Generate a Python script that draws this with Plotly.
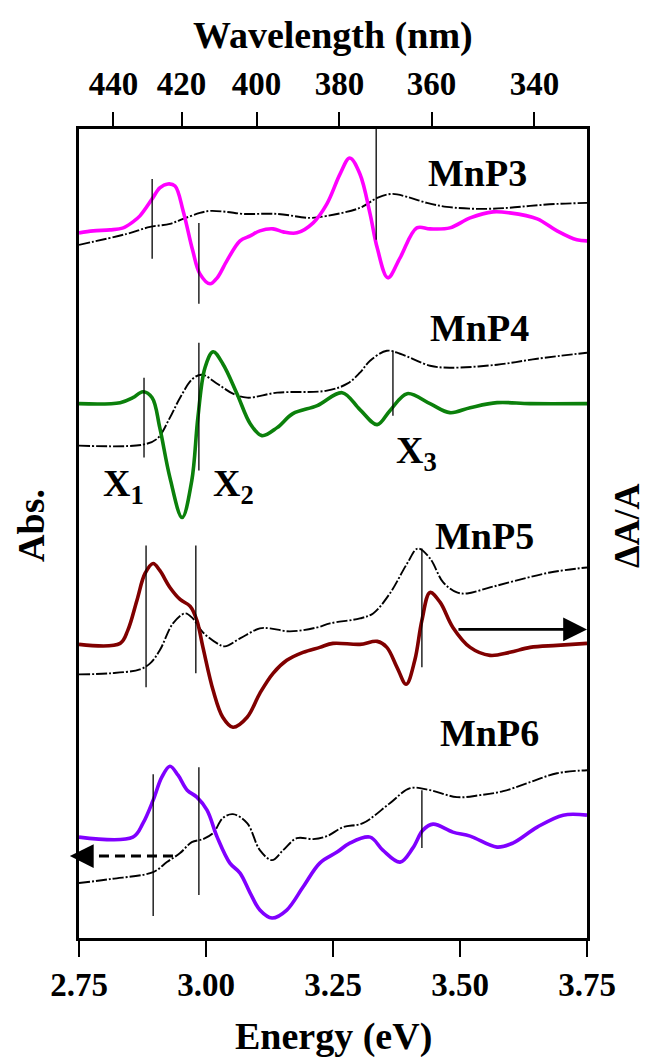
import plotly.graph_objects as go

# ---------------- data: energies (eV) and signals (arb. units) ----------------
# MnP3
e3_dA = [2.750, 2.778, 2.811, 2.837, 2.856, 2.870, 2.894, 2.909, 2.925, 2.939, 2.955, 2.974, 2.988, 3.008,
         3.022, 3.041, 3.067, 3.087, 3.106, 3.132, 3.152, 3.179, 3.211, 3.238, 3.264, 3.283, 3.303, 3.323,
         3.337, 3.358, 3.382, 3.415, 3.441, 3.480, 3.520, 3.565, 3.598, 3.652, 3.691, 3.730, 3.750]
mnp3_dA = [-2, 0, 1, 3, 9, 15, 32, 43, 47, 45, 20, -20, -43, -53, -47, -30, -10, -5, 0, 2, -1, -2, 8, 27,
           57, 73, 57, 17, -17, -47, -27, 3, 2, 3, 13, 19, 18, 12, 0, -9, -10]
e3_abs = [2.750, 2.844, 2.890, 2.929, 2.955, 2.988, 3.008, 3.041, 3.073, 3.140, 3.205, 3.238, 3.303, 3.337,
          3.366, 3.396, 3.435, 3.474, 3.539, 3.593, 3.638, 3.691, 3.750]
mnp3_abs = [-14, -3, 4, 7, 12, 18, 20, 19, 17, 17, 13, 15, 23, 33, 37, 34, 28, 24, 22, 23, 25, 27, 28]

# MnP4
e4_dA = [2.750, 2.831, 2.856, 2.876, 2.894, 2.909, 2.929, 2.953, 2.972, 2.984, 2.998, 3.014, 3.033, 3.061,
         3.087, 3.110, 3.140, 3.171, 3.219, 3.268, 3.303, 3.337, 3.362, 3.396, 3.441, 3.480, 3.520, 3.573,
         3.638, 3.750]
mnp4_dA = [0, 1, 6, 12, 6, -24, -74, -114, -77, -14, 36, 52, 40, 10, -20, -32, -24, -10, -2, 11, -6, -21,
           -7, 10, 0, -9, -4, 1, 0, 0]
e4_abs = [2.750, 2.876, 2.904, 2.929, 2.949, 2.974, 2.992, 3.022, 3.053, 3.081, 3.140, 3.238, 3.278, 3.303,
          3.323, 3.356, 3.382, 3.441, 3.480, 3.573, 3.652, 3.750]
mnp4_abs = [-42, -41, -35, -14, 6, 25, 29, 20, 10, 6, 11, 13, 20, 31, 43, 53, 50, 38, 36, 39, 45, 51]

# MnP5
e5_dA = [2.750, 2.831, 2.846, 2.864, 2.880, 2.896, 2.909, 2.929, 2.949, 2.969, 2.982, 2.994, 3.014, 3.033,
         3.053, 3.081, 3.106, 3.132, 3.159, 3.191, 3.224, 3.250, 3.303, 3.337, 3.356, 3.376, 3.394, 3.411,
         3.425, 3.441, 3.461, 3.486, 3.520, 3.559, 3.598, 3.638, 3.691, 3.750]
mnp5_dA = [0, 1, 14, 44, 71, 81, 74, 57, 45, 38, 24, -3, -46, -73, -83, -73, -49, -29, -16, -8, -3, 1, 0,
           3, -3, -23, -40, -16, 24, 52, 42, 17, -3, -11, -8, -3, -1, 1]
e5_abs = [2.750, 2.811, 2.870, 2.890, 2.909, 2.935, 2.959, 2.974, 2.994, 3.022, 3.037, 3.067, 3.106, 3.126,
          3.165, 3.219, 3.244, 3.303, 3.329, 3.362, 3.396, 3.417, 3.441, 3.467, 3.494, 3.514, 3.559, 3.612,
          3.677, 3.750]
mnp5_abs = [-30, -29, -25, -19, -6, 21, 31, 26, 12, 1, -2, 6, 16, 16, 13, 17, 21, 26, 31, 51, 81, 96, 86,
            62, 52, 51, 57, 64, 72, 77]

# MnP6
e6_dA = [2.750, 2.856, 2.876, 2.896, 2.913, 2.929, 2.945, 2.963, 2.982, 3.002, 3.022, 3.047, 3.067, 3.087,
         3.106, 3.130, 3.159, 3.191, 3.224, 3.258, 3.283, 3.323, 3.348, 3.382, 3.407, 3.427, 3.447, 3.486,
         3.520, 3.573, 3.604, 3.652, 3.703, 3.750]
mnp6_dA = [0, 0, 14, 37, 60, 71, 62, 47, 40, 27, 0, -26, -36, -56, -73, -81, -73, -50, -26, -15, -6, 0,
           -13, -25, -11, 7, 13, 5, 1, -10, -6, 10, 22, 22]
e6_abs = [2.750, 2.811, 2.896, 2.923, 2.949, 2.972, 2.994, 3.014, 3.033, 3.053, 3.081, 3.106, 3.130, 3.152,
          3.179, 3.211, 3.238, 3.270, 3.309, 3.362, 3.402, 3.441, 3.494, 3.539, 3.585, 3.638, 3.691, 3.750]
mnp6_abs = [-46, -42, -35, -25, -16, -5, -2, 4, 19, 23, 14, -13, -23, -13, -1, -2, 1, 10, 14, 34, 49, 47,
            40, 42, 46, 55, 64, 67]

# transition energies X1, X2, X3 (eV)
x_marks = {
    "MnP3": [2.894, 2.986, 3.335],
    "MnP4": [2.878, 2.986, 3.368],
    "MnP5": [2.882, 2.980, 3.425],
    "MnP6": [2.896, 2.986, 3.425],
}

wavelength_ticks = [440, 420, 400, 380, 360, 340]
energy_ticks = [2.75, 3.00, 3.25, 3.50, 3.75]

# ---------------- styling / layout ----------------
FONT = "Liberation Serif"
samples = [
    # name, color, dA energies, dA, abs energies, abs, vertical offset, label pos (E, dy)
    ("MnP3", "#ff00ff", e3_dA, mnp3_dA, e3_abs, mnp3_abs, 708, (3.535, 58)),
    ("MnP4", "#0b800b", e4_dA, mnp4_dA, e4_abs, mnp4_abs, 535, (3.539, 76)),
    ("MnP5", "#800000", e5_dA, mnp5_dA, e5_abs, mnp5_abs, 294, (3.549, 109)),
    ("MnP6", "#8000ff", e6_dA, mnp6_dA, e6_abs, mnp6_abs, 101, (3.559, 104)),
]
# vertical extent of each marker line, relative to the panel baseline
mark_spans = {
    "MnP3": [(52, -28), (8, -73), (102, -9)],
    "MnP4": [(26, -54), (61, -67), (53, -12)],
    "MnP5": [(99, -43), (99, -29), (96, -23)],
    "MnP6": [(63, -79), (70, -58), (47, -11)],
}

fig = go.Figure()
shapes = []
annotations = []

for name, color, eD, dA, eA, ab, off, (lx, ly) in samples:
    fig.add_trace(go.Scatter(
        x=eA, y=[v + off for v in ab], mode="lines", line_shape="spline",
        line=dict(color="black", width=1.9, dash="11px,2px,2px,2px"),
        showlegend=False, hoverinfo="skip"))
    fig.add_trace(go.Scatter(
        x=eD, y=[v + off for v in dA], mode="lines", line_shape="spline",
        line=dict(color=color, width=3.6),
        showlegend=False, hoverinfo="skip"))
    for e, (top, bot) in zip(x_marks[name], mark_spans[name]):
        shapes.append(dict(type="line", xref="x", yref="y", x0=e, x1=e,
                           y0=off + bot, y1=off + top, line=dict(color="black", width=1.3)))
    annotations.append(dict(x=lx, y=off + ly, xref="x", yref="y", text=name, showarrow=False,
                            font=dict(family=FONT, size=38, color="black", weight="bold")))

# X1, X2, X3 labels in the MnP4 panel
off4 = 535
for txt, (lx, ly) in [("X<sub>1</sub>", (2.837, -82)), ("X<sub>2</sub>", (3.055, -82)),
                      ("X<sub>3</sub>", (3.415, -49))]:
    annotations.append(dict(x=lx, y=off4 + ly, xref="x", yref="y", text=txt, showarrow=False,
                            font=dict(family=FONT, size=38, color="black", weight="bold")))

# arrow pointing to the right-hand axis (MnP5)
off5 = 294
annotations.append(dict(x=3.75, y=off5 + 15, ax=3.494, ay=off5 + 15, xref="x", yref="y",
                        axref="x", ayref="y", text="", showarrow=True, arrowhead=2,
                        arrowsize=1.7, arrowwidth=2.8, arrowcolor="black"))
# dashed arrow pointing to the left-hand axis (MnP6)
off6 = 101
shapes.append(dict(type="line", xref="x", yref="y", x0=2.935, x1=2.775, y0=off6 - 19, y1=off6 - 19,
                   line=dict(color="black", width=3, dash="10px,6px")))
annotations.append(dict(x=2.732, y=off6 - 19, ax=2.765, ay=off6 - 19, xref="x", yref="y",
                        axref="x", ayref="y", text="", showarrow=True, arrowhead=2,
                        arrowsize=1.7, arrowwidth=2.8, arrowcolor="black"))

# axis titles
title_font = dict(family=FONT, size=38, color="black", weight="bold")
annotations += [
    dict(x=0.5, y=-0.122, xref="paper", yref="paper", text="Energy (eV)", showarrow=False,
         font=title_font, xanchor="center", yanchor="middle"),
    dict(x=0.5, y=1.116, xref="paper", yref="paper", text="Wavelength (nm)", showarrow=False,
         font=title_font, xanchor="center", yanchor="middle"),
    dict(x=-0.0935, y=0.51, xref="paper", yref="paper", text="Abs.", showarrow=False,
         font=title_font, textangle=-90, xanchor="center", yanchor="middle"),
    dict(x=1.08, y=0.51, xref="paper", yref="paper", text="ΔA/A", showarrow=False,
         font=dict(family=FONT, size=36, color="black", weight="bold"),
         textangle=-90, xanchor="center", yanchor="middle"),
]

# invisible trace so the wavelength axis is drawn
fig.add_trace(go.Scatter(x=[3.0], y=[None], xaxis="x2", showlegend=False, hoverinfo="skip"))

tick_font = dict(family=FONT, size=33, color="black", weight="bold")
fig.update_layout(
    width=649, height=1057,
    margin=dict(l=79, r=62, t=129, b=119),
    paper_bgcolor="white", plot_bgcolor="white",
    shapes=shapes, annotations=annotations,
    xaxis=dict(range=[2.75, 3.75], tickvals=energy_ticks,
               ticktext=[f"{v:.2f}" for v in energy_ticks],
               ticks="outside", ticklen=16, tickwidth=2, tickcolor="black",
               showline=True, linewidth=2.5, linecolor="black", mirror=False,
               showgrid=False, zeroline=False, tickfont=tick_font, ticklabelstandoff=0),
    xaxis2=dict(range=[2.75, 3.75], overlaying="x", side="top",
                tickvals=[1239.84 / w for w in wavelength_ticks],
                ticktext=[str(w) for w in wavelength_ticks],
                ticks="outside", ticklen=14, tickwidth=2, tickcolor="black",
                showline=True, linewidth=2.5, linecolor="black",
                showgrid=False, zeroline=False, tickfont=tick_font, ticklabelstandoff=4),
    yaxis=dict(range=[0, 810], showticklabels=False, ticks="", showline=True, linewidth=2.5,
               linecolor="black", mirror=True, showgrid=False, zeroline=False),
)

fig.write_html("out.html")
